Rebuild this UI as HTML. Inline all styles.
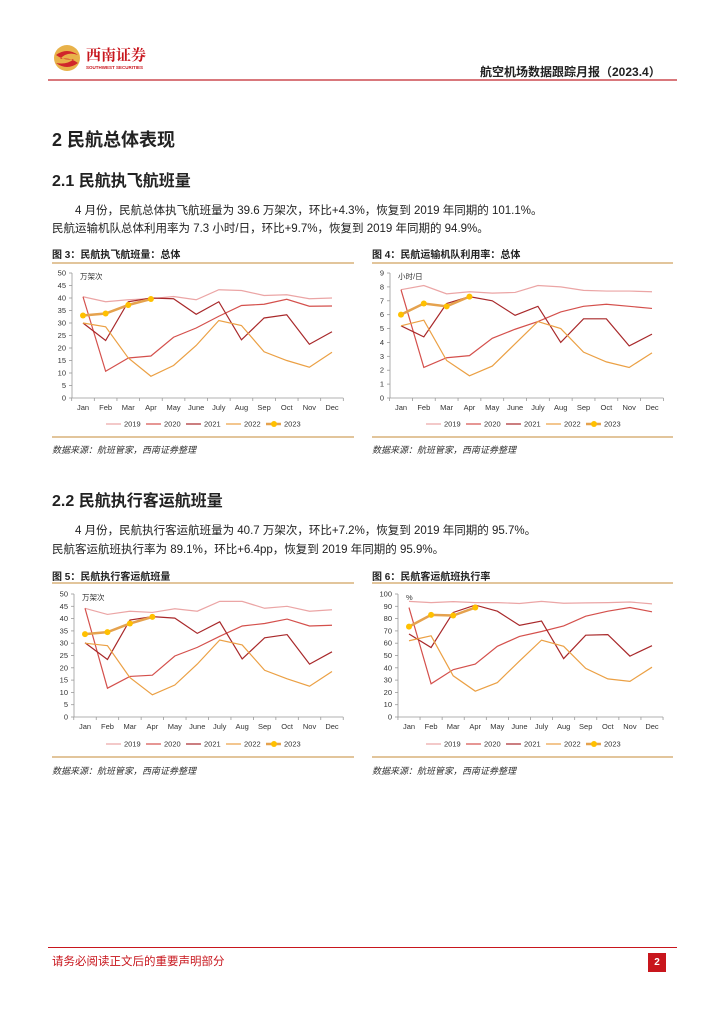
<!DOCTYPE html>
<html><head><meta charset="utf-8">
<style>
body{margin:0;background:#fff;}
#page{position:relative;width:724px;height:1024px;overflow:hidden;font-family:"Liberation Sans","Noto Sans CJK SC",sans-serif;color:#222;}
.abs{position:absolute;white-space:nowrap;}
.h1{font-size:18px;font-weight:bold;}
.h2{font-size:16px;font-weight:bold;}
.p{font-size:11.5px;}
.ct{font-size:10px;font-weight:bold;}
.src{font-size:9px;font-style:italic;color:#333;}
</style></head><body>
<div id="page">
<svg class="abs" style="left:52px;top:43px" width="30" height="30"><circle cx="15" cy="15" r="13" fill="#e8b24a"/><path d="M4 12 Q15 4 26 12 Q15 8 8 16 Q18 14 26 20 Q15 28 4 20 Q15 22 22 16 Q12 18 4 12Z" fill="#d0262b"/></svg>
<div class="abs" style="left:86px;top:44px;font-size:15px;font-weight:bold;color:#c8161d;font-family:'Liberation Serif','Noto Serif CJK SC',serif">西南证券</div>
<div class="abs" style="left:86px;top:65px;font-size:4.5px;color:#c8161d;font-weight:bold">SOUTHWEST SECURITIES</div>
<div class="abs" style="left:480px;top:63px;font-size:12px;font-weight:bold">航空机场数据跟踪月报（2023.4）</div>
<div class="abs" style="left:48px;top:79px;width:629px;height:2px;background:#d9787c"></div>

<div class="abs h1" style="left:52px;top:126px">2 民航总体表现</div>
<div class="abs h2" style="left:52px;top:167px">2.1 民航执飞航班量</div>
<div class="abs p" style="left:75px;top:202px">4 月份，民航总体执飞航班量为 39.6 万架次，环比+4.3%，恢复到 2019 年同期的 101.1%。</div>
<div class="abs p" style="left:52px;top:220px">民航运输机队总体利用率为 7.3 小时/日，环比+9.7%，恢复到 2019 年同期的 94.9%。</div>
<div class="abs ct" style="left:52px;top:246px">图 3：民航执飞航班量：总体</div>
<div class="abs ct" style="left:372px;top:246px">图 4：民航运输机队利用率：总体</div>
<div class="abs src" style="left:52px;top:443px">数据来源：航班管家，西南证券整理</div>
<div class="abs src" style="left:372px;top:443px">数据来源：航班管家，西南证券整理</div>

<div class="abs h2" style="left:52px;top:487px">2.2 民航执行客运航班量</div>
<div class="abs p" style="left:75px;top:522px">4 月份，民航执行客运航班量为 40.7 万架次，环比+7.2%，恢复到 2019 年同期的 95.7%。</div>
<div class="abs p" style="left:52px;top:541px">民航客运航班执行率为 89.1%，环比+6.4pp，恢复到 2019 年同期的 95.9%。</div>
<div class="abs ct" style="left:52px;top:568px">图 5：民航执行客运航班量</div>
<div class="abs ct" style="left:372px;top:568px">图 6：民航客运航班执行率</div>
<div class="abs src" style="left:52px;top:764px">数据来源：航班管家，西南证券整理</div>
<div class="abs src" style="left:372px;top:764px">数据来源：航班管家，西南证券整理</div>

<div class="abs" style="left:48px;top:947px;width:629px;height:1px;background:#c8161d"></div>
<div class="abs" style="left:52px;top:953px;font-size:11.5px;color:#c8161d">请务必阅读正文后的重要声明部分</div>
<div class="abs" style="left:648px;top:953px;width:18px;height:19px;background:#c8161d;color:#fff;font-size:10px;font-weight:bold;text-align:center;line-height:19px">2</div>

<svg id="chart" class="abs" style="left:0;top:0" width="724" height="1024"></svg>
</div>
<script>
const months=["Jan","Feb","Mar","Apr","May","June","July","Aug","Sep","Oct","Nov","Dec"];
const years=["2019","2020","2021","2022","2023"];
const c3_2019=[40.5,38.5,39.3,39.7,40.6,39.3,43.3,43,41,41.3,39.7,40];
const c3_2020=[40.5,10.7,16,16.8,24.3,28,32.7,37,37.5,39.5,36.7,36.8];
const c3_2021=[30,23,38.5,40,39.7,33.5,38.5,23.3,32,33.3,21.5,26.5];
const c3_2022=[30,28.5,16,8.7,13,21,31,29,18.5,15,12.3,18.3];
const c3_2023=[33,33.8,37.2,39.6];
const c4_2019=[7.8,8.1,7.5,7.65,7.55,7.6,8.1,8,7.75,7.7,7.7,7.65];
const c4_2020=[7.8,2.2,2.9,3.05,4.3,4.95,5.5,6.2,6.6,6.75,6.6,6.45];
const c4_2021=[5.2,4.4,6.8,7.3,7,5.95,6.6,4,5.7,5.7,3.75,4.6];
const c4_2022=[5.2,5.6,2.7,1.6,2.3,3.9,5.5,5,3.3,2.6,2.2,3.25];
const c4_2023=[6,6.8,6.6,7.3];
const c5_2019=[44.2,41.7,43,42.5,44,43,47,47,44.2,45,43,43.6];
const c5_2020=[44.2,11.7,16.5,17,24.8,28.3,32.8,37,38,39.8,37,37.3];
const c5_2021=[30.2,23.4,39.4,40.8,40.2,34,38.7,23.6,32.2,33.5,21.5,26.5];
const c5_2022=[30,29,16,9,13,21.5,31.3,29.3,19,15.5,12.5,18.5];
const c5_2023=[33.7,34.5,38,40.7];
const c6_2019=[94,93,93.8,93,93,92.3,94,92.5,92.8,93,93.5,92];
const c6_2020=[89,27,38.5,43,57.5,65.5,69.5,74,82,86,89,85.5];
const c6_2021=[67.5,56.5,85,91,86,74.5,78,47.5,66.5,67,49.5,58];
const c6_2022=[62,66,33.5,21,28,45.5,62.5,57.5,39.5,31,29,40.5];
const c6_2023=[73.5,83,82.5,89];
const ticks3=[0,5,10,15,20,25,30,35,40,45,50];
const ticks4=[0,1,2,3,4,5,6,7,8,9];
const ticks6=[0,10,20,30,40,50,60,70,80,90,100];
const colors=["#eba5a5","#d4504c","#a8282a","#eba044","#e5a24e"];
const NS="http://www.w3.org/2000/svg";
const svg=document.getElementById('chart');
function mk(tag,attrs,parent){const e=document.createElementNS(NS,tag);for(const k in attrs)e.setAttribute(k,attrs[k]);(parent||svg).appendChild(e);return e;}
function chart(id,box,ticks,unit,series){
 const g=mk('g',{});
 
 
 const {x0,x1,yTop,yBot,left,right,top,bottom,axisX}=box;
 const max=ticks[ticks.length-1];
 const X=i=>x0+(x1-x0)*i/11;
 const Y=v=>yBot-(yBot-yTop)*v/max;
 const bt=mk('line',{x1:left,x2:right,y1:top,y2:top,stroke:"#d9b27a","stroke-width":1.5},g);
 
 const bb=mk('line',{x1:left,x2:right,y1:bottom,y2:bottom,stroke:"#d9b27a","stroke-width":1.5},g);
 
 const step=(x1-x0)/11;
 const ya=mk('line',{x1:axisX,x2:axisX,y1:yTop,y2:yBot,stroke:"#999","stroke-width":0.8},g);
 
 const xa=mk('line',{x1:axisX,x2:x1+step/2,y1:yBot,y2:yBot,stroke:"#999","stroke-width":0.8},g);
 
 ticks.forEach(t=>{
  mk('line',{x1:axisX-3,x2:axisX,y1:Y(t),y2:Y(t),stroke:"#999","stroke-width":0.8},g);
  const tx=mk('text',{x:axisX-6,y:Y(t)+2.5,"font-size":7.5,"text-anchor":"end",fill:"#333"},g);
  tx.textContent=t;
  
 });
 for(let i=0;i<=12;i++){mk('line',{x1:x0+step*(i-0.5),x2:x0+step*(i-0.5),y1:yBot,y2:yBot+3,stroke:"#999","stroke-width":0.8},g);}
 months.forEach((m,i)=>{
  const tx=mk('text',{x:X(i),y:yBot+12,"font-size":7.5,"text-anchor":"middle",fill:"#333"},g);
  tx.textContent=m;
  
 });
 const ut=mk('text',{x:axisX+8,y:yTop+6,"font-size":7.5,fill:"#333"},g);
 ut.textContent=unit;
 
 series.forEach((s,k)=>{
  const pts=s.map((v,i)=>X(i)+","+Y(v)).join(" ");
  const pl=mk('polyline',{points:pts,fill:"none",stroke:colors[k],"stroke-width":k==4?2.5:1.2},g);
  
  if(k==4)s.forEach((v,i)=>{const c=mk('circle',{cx:X(i),cy:Y(v),r:3,fill:"#ffc000"},g);});
 });
 const ly=box.legendY;
 years.forEach((yr,k)=>{
  const lx=left+72+40*k;
  mk('line',{x1:lx-18,x2:lx-3,y1:ly,y2:ly,stroke:colors[k],"stroke-width":k==4?2.5:1.2},g);
  if(k==4)mk('circle',{cx:lx-10,cy:ly,r:3,fill:"#ffc000"},g);
  const tx=mk('text',{x:lx,y:ly+2.7,"font-size":7.5,fill:"#333"},g);
  tx.textContent=yr;
  
 });
}
chart('chart3-flights-total',{x0:83,x1:332,yTop:273,yBot:398,left:52,right:354,top:263,bottom:437,axisX:72,legendY:424},ticks3,"万架次",[c3_2019,c3_2020,c3_2021,c3_2022,c3_2023]);
chart('chart4-utilization',{x0:401,x1:652,yTop:273,yBot:398,left:372,right:673,top:263,bottom:437,axisX:390,legendY:424},ticks4,"小时/日",[c4_2019,c4_2020,c4_2021,c4_2022,c4_2023]);
chart('chart5-passenger-flights',{x0:85,x1:332,yTop:594,yBot:717,left:52,right:354,top:583,bottom:757,axisX:74,legendY:744},ticks3,"万架次",[c5_2019,c5_2020,c5_2021,c5_2022,c5_2023]);
chart('chart6-execution-rate',{x0:409,x1:652,yTop:594,yBot:717,left:372,right:673,top:583,bottom:757,axisX:398,legendY:744},ticks6,"%",[c6_2019,c6_2020,c6_2021,c6_2022,c6_2023]);
</script>
</body></html>
